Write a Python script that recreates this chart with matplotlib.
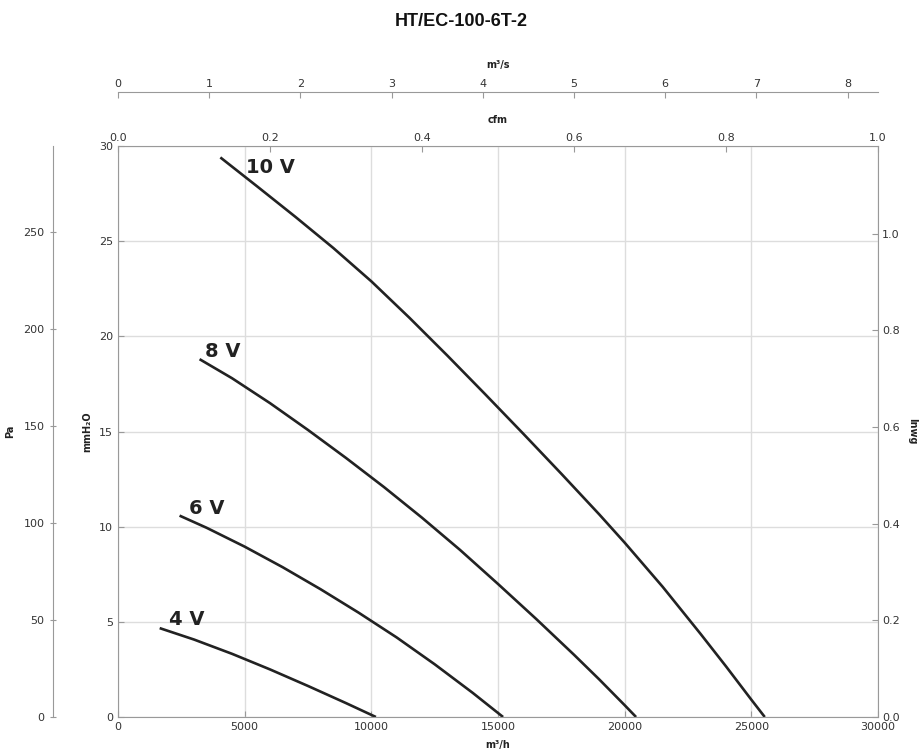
import matplotlib
matplotlib.use("Agg")
import matplotlib.pyplot as plt
from matplotlib.ticker import FormatStrFormatter

# ---- data ----
title = "HT/EC-100-6T-2"
curve_labels = ["10 V", "8 V", "6 V", "4 V"]

v10_x = [4040, 5500, 7000, 8500, 10000, 11500, 13000, 14500, 16000, 17500, 19000, 20000,
         21500, 23000, 24000, 25000, 25530]
v10_y = [29.4, 27.87, 26.28, 24.64, 22.89, 20.98, 18.99, 16.95, 14.88, 12.78, 10.64, 9.16,
         6.84, 4.36, 2.66, 0.91, 0.0]

v8_x = [3220, 4500, 6000, 7500, 9000, 10500, 12000, 13500, 15000, 16500, 18000, 19000,
        20000, 20450]
v8_y = [18.8, 17.8, 16.49, 15.08, 13.61, 12.08, 10.47, 8.78, 6.99, 5.16, 3.27, 1.97,
        0.62, 0.0]

v6_x = [2430, 3500, 5000, 6500, 8000, 9500, 11000, 12500, 14000, 15200]
v6_y = [10.58, 9.94, 8.95, 7.87, 6.71, 5.48, 4.18, 2.77, 1.27, 0.0]

v4_x = [1645, 3000, 4500, 6000, 7500, 9000, 10180]
v4_y = [4.67, 4.07, 3.32, 2.50, 1.63, 0.73, 0.0]

x_max = 30000          # m3/h
y_max = 30             # mmH2O
x_ticks = [0, 5000, 10000, 15000, 20000, 25000, 30000]
y_ticks = [0, 5, 10, 15, 20, 25, 30]
pa_ticks = [0, 50, 100, 150, 200, 250]
inwg_ticks = [0.0, 0.2, 0.4, 0.6, 0.8, 1.0]
cfm_ticks = [0.0, 0.2, 0.4, 0.6, 0.8, 1.0]
m3s_ticks = [0, 1, 2, 3, 4, 5, 6, 7, 8]

# ---- style ----
W, H = 922, 750
SPINE = "#999999"
TXT = "#333333"
GRID = "#dddddd"
LINE = "#222222"

fig = plt.figure(figsize=(W / 100, H / 100), dpi=100)
L, R, T, B = 118, 878, 146, 717
ax = fig.add_axes([L / W, 1 - B / H, (R - L) / W, (B - T) / H])
aw, ah = R - L, B - T

ax.set_xlim(0, x_max)
ax.set_ylim(0, y_max)
ax.set_xticks(x_ticks)
ax.set_yticks(y_ticks)
ax.grid(True, color=GRID, lw=1)
ax.set_axisbelow(True)
for s in ax.spines.values():
    s.set_color(SPINE)
ax.tick_params(direction="in", length=4, color=SPINE, labelcolor=TXT, labelsize=8,
               top=False, right=False)

series = [(v10_x, v10_y), (v8_x, v8_y), (v6_x, v6_y), (v4_x, v4_y)]
offsets = [(26, -16), (5, 2), (9, 2), (9, 3)]  # label offset from curve start, pixels
for (xs, ys), lab, off in zip(series, curve_labels, offsets):
    ax.plot(xs, ys, color=LINE, lw=1.9, solid_capstyle="butt", solid_joinstyle="round")
    ax.annotate(lab, xy=(xs[0], ys[0]), xytext=off, textcoords="offset pixels",
                fontsize=14, fontweight="bold", color=LINE, ha="left", va="baseline")

lab_kw = dict(fontsize=7, fontweight="bold", color="#222222")
ax.set_xlabel("m³/h", **lab_kw)
ax.xaxis.set_label_coords(0.5, (B - 740) / ah)
ax.set_ylabel("mmH₂O", **lab_kw)
ax.yaxis.set_label_coords((92 - L) / aw, 0.5)

# Pa axis (far left)
axp = ax.twinx()
axp.set_ylim(0, y_max * 9.80665)
axp.set_yticks(pa_ticks)
for k, s in axp.spines.items():
    s.set_visible(k == "left")
axp.spines["left"].set_color(SPINE)
axp.spines["left"].set_position(("axes", (53 - L) / aw))
axp.yaxis.set_ticks_position("left")
axp.yaxis.set_label_position("left")
axp.tick_params(direction="inout", length=5, color=SPINE, labelcolor=TXT, labelsize=8)
axp.set_ylabel("Pa", **lab_kw)
axp.yaxis.set_label_coords((15 - L) / aw, 0.5)

# Inwg axis (right)
axi = ax.twinx()
axi.set_ylim(0, y_max / 25.4)
axi.set_yticks(inwg_ticks)
axi.yaxis.set_major_formatter(FormatStrFormatter("%.1f"))
for k, s in axi.spines.items():
    s.set_visible(False)
axi.tick_params(direction="in", length=4, color=SPINE, labelcolor=TXT, labelsize=8, pad=3)
axi.set_ylabel("Inwg", rotation=270, va="center", ha="center", **lab_kw)
axi.yaxis.set_label_coords((912 - L) / aw, 0.5)

# cfm axis (top, on frame)
axc = ax.twiny()
axc.set_xlim(0, 1)
axc.set_xticks(cfm_ticks)
axc.xaxis.set_major_formatter(FormatStrFormatter("%.1f"))
for k, s in axc.spines.items():
    s.set_visible(False)
axc.tick_params(direction="in", length=4, color=SPINE, labelcolor=TXT, labelsize=8, pad=2)
axc.set_xlabel("cfm", **lab_kw)
axc.xaxis.set_label_coords(0.5, (B - 123) / ah)

# m3/s axis (top, offset)
axs = ax.twiny()
axs.set_xlim(0, x_max / 3600)
axs.set_xticks(m3s_ticks)
for k, s in axs.spines.items():
    s.set_visible(k == "top")
axs.spines["top"].set_color(SPINE)
axs.spines["top"].set_position(("axes", (B - 92) / ah))
axs.tick_params(direction="in", length=4, color=SPINE, labelcolor=TXT, labelsize=8, pad=2)
axs.set_xlabel("m³/s", **lab_kw)
axs.xaxis.set_label_coords(0.5, (B - 68) / ah)

fig.text(0.5, 1 - 22 / H, title, ha="center", va="center", fontsize=13,
         fontweight="bold", family=["Liberation Sans", "DejaVu Sans"], color="#111111")

fig.savefig("out.png", dpi=100)
